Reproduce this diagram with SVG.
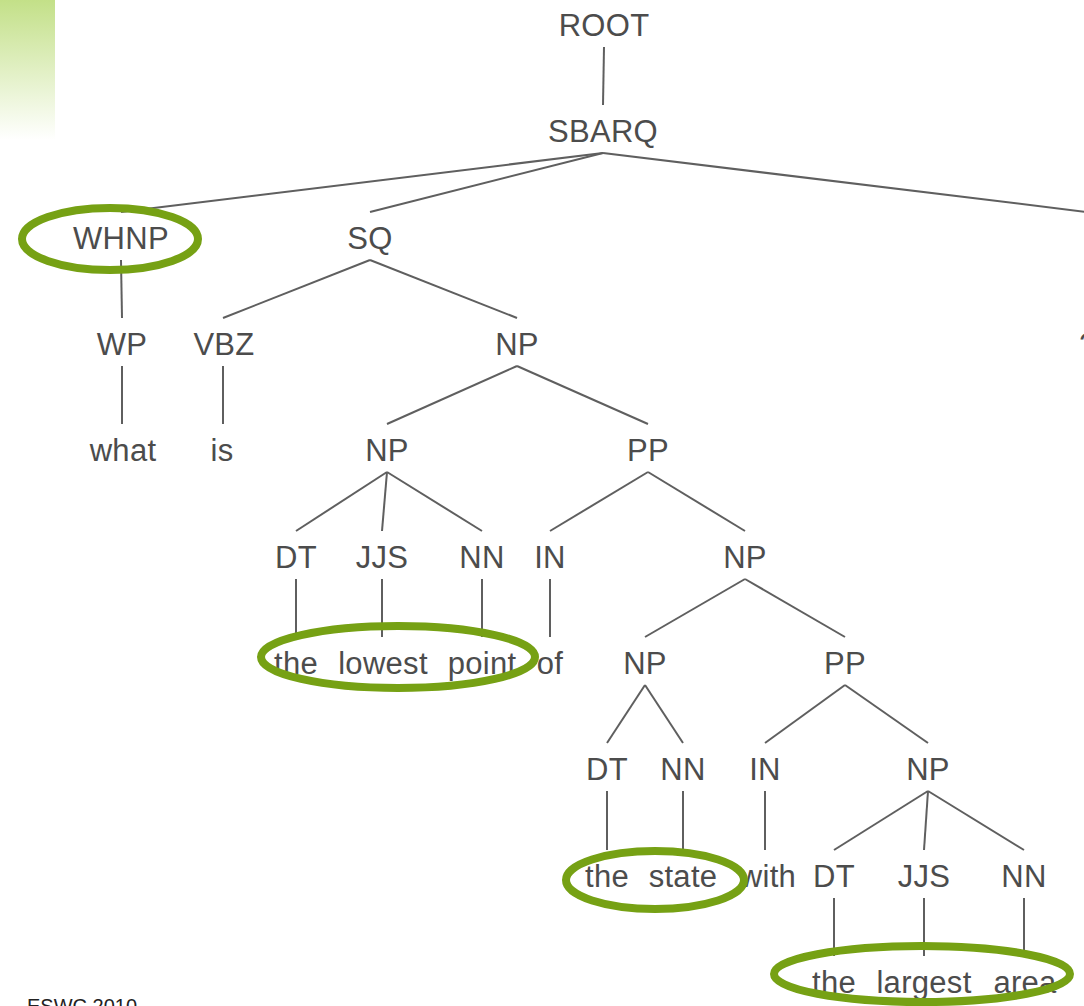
<svg xmlns="http://www.w3.org/2000/svg" width="1084" height="1006" viewBox="0 0 1084 1006">
<style>
.t{font-family:"Liberation Sans",Arial,sans-serif;font-size:31px;fill:#4c4c4c;text-anchor:middle;letter-spacing:0.3px}
.e{stroke:#5f5f5f;stroke-width:2;fill:none}
.hl{fill:none;stroke:#76a114;stroke-width:8}
.foot{font-family:"Liberation Sans",Arial,sans-serif;font-size:20px;fill:#222}
</style>
<defs>
<linearGradient id="g" x1="0" y1="0" x2="0" y2="1">
<stop offset="0" stop-color="#c3e088"/>
<stop offset="1" stop-color="#ffffff"/>
</linearGradient>
</defs>
<rect width="1084" height="1006" fill="#fff"/>
<rect x="0" y="0" width="55" height="140" fill="url(#g)"/>
<g id="connectors" class="e">
<line x1="604" y1="47" x2="603" y2="105"/>
<line x1="603" y1="153" x2="121" y2="212"/>
<line x1="603" y1="153" x2="370" y2="212"/>
<line x1="603" y1="153" x2="1087" y2="212"/>
<line x1="1087" y1="260" x2="1087" y2="318"/>
<line x1="121" y1="260" x2="122" y2="318"/>
<line x1="370" y1="260" x2="223" y2="318"/>
<line x1="370" y1="260" x2="517" y2="318"/>
<line x1="122" y1="366" x2="122" y2="424"/>
<line x1="223" y1="366" x2="223" y2="424"/>
<line x1="517" y1="366" x2="387" y2="424"/>
<line x1="517" y1="366" x2="648" y2="424"/>
<line x1="387" y1="472" x2="296" y2="531"/>
<line x1="387" y1="472" x2="382" y2="531"/>
<line x1="387" y1="472" x2="482" y2="531"/>
<line x1="648" y1="472" x2="550" y2="531"/>
<line x1="648" y1="472" x2="745" y2="531"/>
<line x1="296" y1="579" x2="296" y2="637"/>
<line x1="382" y1="579" x2="382" y2="637"/>
<line x1="482" y1="579" x2="482" y2="637"/>
<line x1="550" y1="579" x2="550" y2="637"/>
<line x1="745" y1="579" x2="645" y2="637"/>
<line x1="745" y1="579" x2="845" y2="637"/>
<line x1="645" y1="685" x2="607" y2="743"/>
<line x1="645" y1="685" x2="683" y2="743"/>
<line x1="845" y1="685" x2="765" y2="743"/>
<line x1="845" y1="685" x2="928" y2="743"/>
<line x1="607" y1="791" x2="607" y2="850"/>
<line x1="683" y1="791" x2="683" y2="850"/>
<line x1="765" y1="791" x2="765" y2="850"/>
<line x1="928" y1="791" x2="834" y2="850"/>
<line x1="928" y1="791" x2="924" y2="850"/>
<line x1="928" y1="791" x2="1024" y2="850"/>
<line x1="834" y1="898" x2="834" y2="956"/>
<line x1="924" y1="898" x2="924" y2="956"/>
<line x1="1024" y1="898" x2="1024" y2="956"/>
</g>
<g id="n-root"><text class="t" x="604" y="36">ROOT</text></g>
<g id="n-sbarq"><text class="t" x="603" y="142">SBARQ</text></g>
<g id="n-whnp"><text class="t" x="121" y="249">WHNP</text></g>
<g id="n-sq"><text class="t" x="370" y="249">SQ</text></g>
<g id="n-wp"><text class="t" x="122" y="355">WP</text></g>
<g id="n-vbz"><text class="t" x="224" y="355">VBZ</text></g>
<g id="n-np1"><text class="t" x="517" y="355">NP</text></g>
<g id="n-q"><text class="t" x="1088" y="355">?</text></g>
<g id="n-what"><text class="t" x="123" y="461">what</text></g>
<g id="n-is"><text class="t" x="222" y="461">is</text></g>
<g id="n-np2"><text class="t" x="387" y="461">NP</text></g>
<g id="n-pp1"><text class="t" x="648" y="461">PP</text></g>
<g id="n-dt1"><text class="t" x="296" y="568">DT</text></g>
<g id="n-jjs1"><text class="t" x="382" y="568">JJS</text></g>
<g id="n-nn1"><text class="t" x="482" y="568">NN</text></g>
<g id="n-in1"><text class="t" x="550" y="568">IN</text></g>
<g id="n-np3"><text class="t" x="745" y="568">NP</text></g>
<g id="n-the1"><text class="t" x="296" y="674">the</text></g>
<g id="n-lowest"><text class="t" x="383" y="674">lowest</text></g>
<g id="n-point"><text class="t" x="482" y="674">point</text></g>
<g id="n-of"><text class="t" x="550" y="674">of</text></g>
<g id="n-np4"><text class="t" x="645" y="674">NP</text></g>
<g id="n-pp2"><text class="t" x="845" y="674">PP</text></g>
<g id="n-dt2"><text class="t" x="607" y="780">DT</text></g>
<g id="n-nn2"><text class="t" x="683" y="780">NN</text></g>
<g id="n-in2"><text class="t" x="765" y="780">IN</text></g>
<g id="n-np5"><text class="t" x="928" y="780">NP</text></g>
<g id="n-the2"><text class="t" x="607" y="887">the</text></g>
<g id="n-state"><text class="t" x="683" y="887">state</text></g>
<g id="n-with"><text class="t" x="768" y="887">with</text></g>
<g id="n-dt3"><text class="t" x="834" y="887">DT</text></g>
<g id="n-jjs2"><text class="t" x="924" y="887">JJS</text></g>
<g id="n-nn3"><text class="t" x="1024" y="887">NN</text></g>
<g id="n-the3"><text class="t" x="834" y="993">the</text></g>
<g id="n-largest"><text class="t" x="924" y="993">largest</text></g>
<g id="n-area"><text class="t" x="1025" y="993">area</text></g>
<g id="highlights">
<ellipse class="hl" cx="110" cy="239" rx="88" ry="31"/>
<ellipse class="hl" cx="398" cy="657" rx="137" ry="31"/>
<ellipse class="hl" cx="655" cy="880" rx="89" ry="29"/>
<ellipse class="hl" cx="922" cy="974" rx="148" ry="28"/>
</g>
<text class="foot" x="27" y="1013">ESWC 2010</text>
</svg>
